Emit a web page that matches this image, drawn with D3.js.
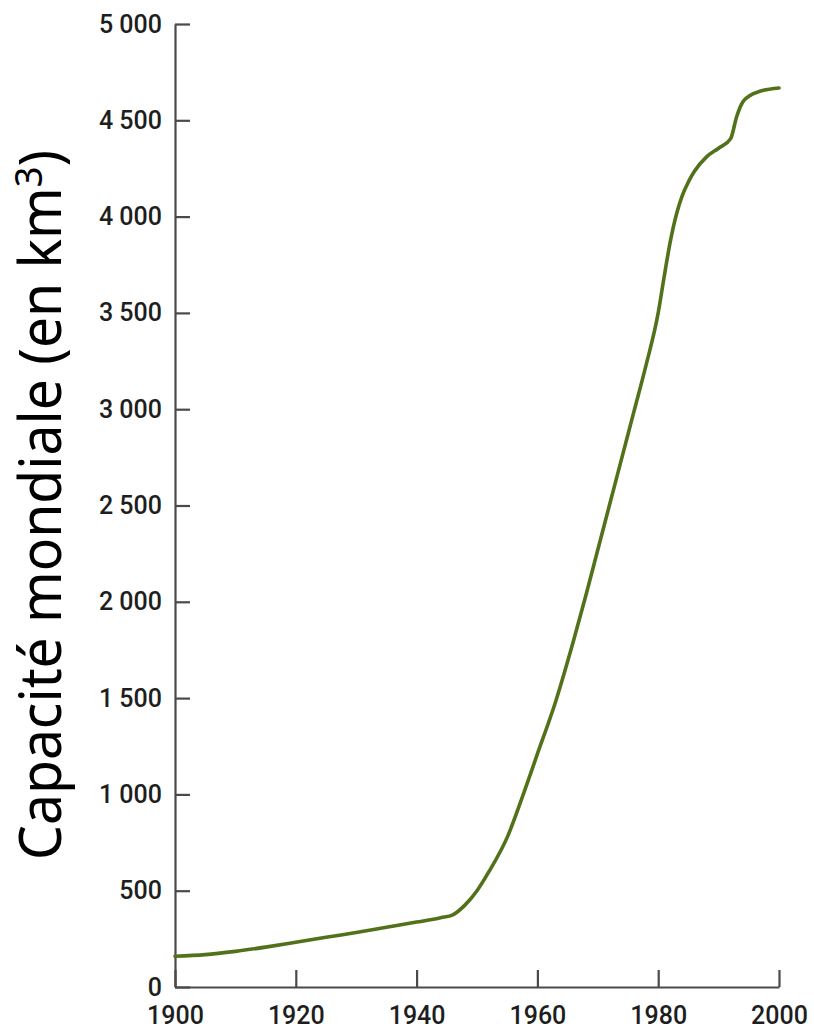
<!DOCTYPE html>
<html>
<head>
<meta charset="utf-8">
<script src="https://cdn.jsdelivr.net/npm/d3@7"></script>
<style>
  html, body { margin: 0; padding: 0; background: #fff; }
  svg { display: block; }
</style>
</head>
<body>
<svg id="chart" width="814" height="1030"></svg>
<script>
// ---- data ----
const years = [1900, 1905, 1910, 1915, 1920, 1925, 1930, 1935, 1940, 1944, 1946, 1948, 1950, 1952, 1955, 1958, 1960, 1963, 1966, 1968, 1970, 1972, 1974, 1976, 1978, 1980, 1981, 1982, 1983, 1984, 1985, 1986, 1988, 1990, 1992, 1993, 1994, 1995, 1997, 2000];
const capacity = [160, 168, 185, 207, 232, 258, 283, 310, 337, 360, 375, 425, 500, 600, 777, 1030, 1210, 1480, 1800, 2030, 2270, 2510, 2750, 2990, 3230, 3500, 3690, 3870, 4010, 4110, 4180, 4235, 4310, 4355, 4405, 4520, 4595, 4625, 4652, 4668];
const yTicks = [0, 500, 1000, 1500, 2000, 2500, 3000, 3500, 4000, 4500, 5000];
const xTicks = [1900, 1920, 1940, 1960, 1980, 2000];
const yTitle = "Capacité mondiale (en km";
const yTitleSup = "3";

const svg = d3.select("#chart");
const x = d3.scaleLinear().domain([1900, 2000]).range([175, 779]);
const y = d3.scaleLinear().domain([0, 5000]).range([987, 24]);

const fr = d3.formatLocale({decimal: ",", thousands: " ", grouping: [3], currency: ["", " €"]});
const fmt = fr.format(",");

const axisColor = "#4a4a4a";
const textColor = "#1e1e1e";

// y axis
const gy = svg.append("g")
  .attr("transform", `translate(${x(1900)},0)`)
  .call(d3.axisLeft(y).tickValues(yTicks).tickFormat(fmt).tickSizeInner(-15).tickSizeOuter(0).tickPadding(13));
// x axis
const gx = svg.append("g")
  .attr("transform", `translate(0,${y(0)})`)
  .call(d3.axisBottom(x).tickValues(xTicks).tickFormat(d3.format("d")).tickSizeInner(-17).tickSizeOuter(0).tickPadding(19));

[gy, gx].forEach(g => {
  g.select(".domain").attr("stroke", axisColor).attr("stroke-width", 2.2);
  g.selectAll(".tick line").attr("stroke", axisColor).attr("stroke-width", 2.2);
  g.selectAll(".tick text")
    .attr("fill", textColor)
    .style("font-family", "Roboto, 'Liberation Sans', sans-serif")
    .style("font-weight", "500")
    .style("font-size", "25px");
});

// line
const line = d3.line()
  .x((d, i) => x(years[i]))
  .y(d => y(d))
  .curve(d3.curveMonotoneX);

svg.append("path")
  .datum(capacity)
  .attr("d", line)
  .attr("fill", "none")
  .attr("stroke", "#52721a")
  .attr("stroke-width", 3.6)
  .attr("stroke-linejoin", "round")
  .attr("stroke-linecap", "round");

// y title
const t = svg.append("text")
  .attr("transform", "translate(61,505) rotate(-90)")
  .attr("text-anchor", "middle")
  .attr("fill", "#000")
  .style("font-family", "'Noto Sans', 'Open Sans', sans-serif")
  .style("font-size", "58px")
  .attr("textLength", 710)
  .attr("lengthAdjust", "spacingAndGlyphs");
t.append("tspan").text(yTitle);
t.append("tspan").attr("dy", -19).style("font-size", "38px").text(yTitleSup);
t.append("tspan").attr("dy", 19).text(")");
</script>
</body>
</html>
